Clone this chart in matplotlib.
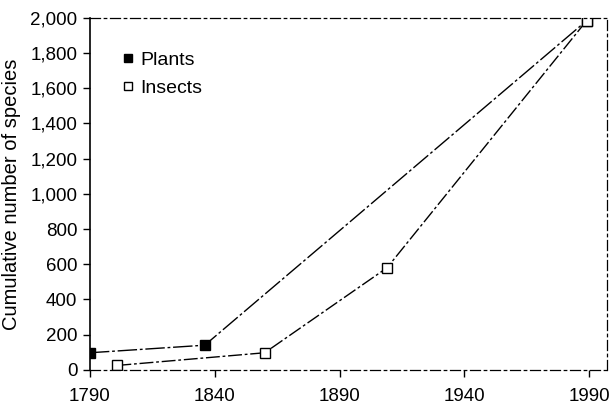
import matplotlib
matplotlib.use('Agg')
import matplotlib.pyplot as plt

plt.rcParams['font.family'] = ['Liberation Sans', 'DejaVu Sans']

# Data
plant_years = [1790, 1836, 1989]
plant_counts = [97, 140, 1985]
insect_years = [1801, 1860, 1909, 1989]
insect_counts = [25, 97, 580, 1985]

xticks = [1790, 1840, 1890, 1940, 1990]
yticks = list(range(0, 2001, 200))

fig = plt.figure(figsize=(6.16, 4.16), dpi=100)
ax = fig.add_axes([0.146, 0.111, 0.839, 0.846])

ax.plot(plant_years, plant_counts, color='black', lw=1.0,
        linestyle=(0, (14, 2, 2, 2)), marker='s', markersize=7,
        markerfacecolor='black', markeredgecolor='black', label='Plants')
ax.plot(insect_years, insect_counts, color='black', lw=1.0,
        linestyle=(0, (10, 2, 2, 2)), marker='s', markersize=7,
        markerfacecolor='white', markeredgecolor='black', label='Insects')

ax.set_xlim(1790, 1997)
ax.set_ylim(0, 2000)
ax.set_xticks(xticks)
ax.set_yticks(yticks)
ax.set_yticklabels([f'{v:,}' for v in yticks])
ax.tick_params(axis='both', labelsize=13.5, direction='out', length=5,
               width=1, colors='black')
ax.tick_params(axis='x', pad=8)
ax.tick_params(axis='y', pad=4)
ax.set_ylabel('Cumulative number of species', fontsize=14.5)
ax.yaxis.set_label_coords(-0.133, 0.5)

for side in ['top', 'right', 'bottom']:
    ax.spines[side].set_linestyle((0, (8, 3, 2, 3)))
    ax.spines[side].set_linewidth(0.9)
ax.spines['left'].set_linewidth(1.2)

ax.legend(loc='upper left', bbox_to_anchor=(0.03, 0.955), frameon=False,
          fontsize=14, handlelength=0.5, handletextpad=0.4,
          labelspacing=0.55, markerscale=0.85)
for h in ax.get_legend().legend_handles:
    h.set_linestyle('None')

fig.savefig('out.png', dpi=100)
